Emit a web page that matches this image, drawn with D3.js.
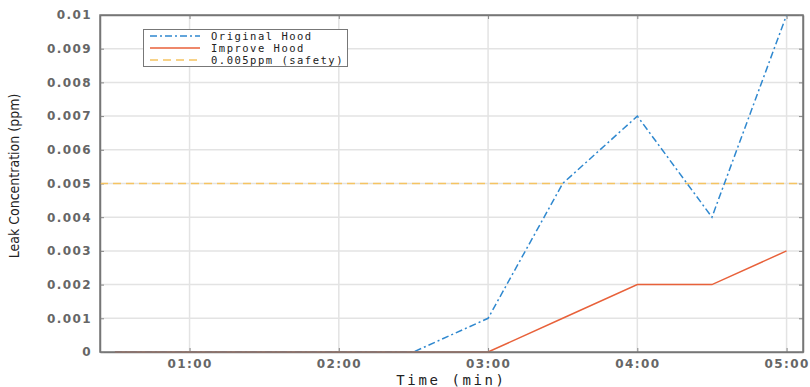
<!DOCTYPE html>
<html>
<head>
<meta charset="utf-8">
<script src="https://cdn.jsdelivr.net/npm/d3@7/dist/d3.min.js"></script>
<style>
  body { margin: 0; background: #fff; }
</style>
</head>
<body>
<svg id="chart" width="810" height="387"></svg>
<script>
// time in minutes
var times = [0.5, 1.0, 1.5, 2.0, 2.5, 3.0, 3.5, 4.0, 4.5, 5.0]
var originalHood = [0, 0, 0, 0, 0, 0.001, 0.005, 0.007, 0.004, 0.01]
var improveHood = [0, 0, 0, 0, 0, 0, 0.001, 0.002, 0.002, 0.003]
var safetyLevel = 0.005
var xTicks = [1, 2, 3, 4, 5]
var xTickLabels = ["01:00", "02:00", "03:00", "04:00", "05:00"]
var yTicks = [0, 0.001, 0.002, 0.003, 0.004, 0.005, 0.006, 0.007, 0.008, 0.009, 0.01]
var legendNames = ["Original Hood", "Improve Hood", "0.005ppm (safety)"]

var plotL = 100, plotR = 803, plotT = 15, plotB = 352
var svg = d3.select("#chart")

var x = d3.scaleLinear().domain([0.4, 5.11]).range([plotL, plotR])
var y = d3.scaleLinear().domain([0, 0.01]).range([plotB, plotT])

// grid
svg.append("g").selectAll("line").data(xTicks).enter().append("line")
  .attr("x1", d => x(d)).attr("x2", d => x(d)).attr("y1", plotT).attr("y2", plotB)
  .attr("stroke", "#e3e3e3").attr("stroke-width", 1.5)
svg.append("g").selectAll("line").data(yTicks.slice(1, -1)).enter().append("line")
  .attr("x1", plotL).attr("x2", plotR).attr("y1", d => y(d)).attr("y2", d => y(d))
  .attr("stroke", "#e3e3e3").attr("stroke-width", 1.5)

// axes with inward ticks
svg.append("g").attr("transform", "translate(0," + plotB + ")")
  .call(d3.axisBottom(x).tickValues(xTicks).tickSizeInner(-4).tickSizeOuter(0).tickPadding(7)
    .tickFormat((d, i) => xTickLabels[i]))
svg.append("g").attr("transform", "translate(" + plotL + ",0)")
  .call(d3.axisLeft(y).tickValues(yTicks).tickSizeInner(-4).tickSizeOuter(0).tickPadding(8)
    .tickFormat(d => String(+d.toFixed(3))))
svg.append("g").attr("transform", "translate(0," + plotT + ")")
  .call(d3.axisTop(x).tickValues(xTicks).tickSizeInner(-4).tickSizeOuter(0).tickFormat(""))
svg.append("g").attr("transform", "translate(" + plotR + ",0)")
  .call(d3.axisRight(y).tickValues(yTicks).tickSizeInner(-4).tickSizeOuter(0).tickFormat(""))

svg.selectAll(".tick line").attr("stroke", "#888")
svg.selectAll(".domain").attr("stroke", "#777").attr("stroke-width", 1.5)
svg.selectAll(".tick text")
  .attr("font-family", "DejaVu Sans").attr("font-size", 12).attr("font-weight", "bold")
  .attr("letter-spacing", 1.4).attr("fill", "#666")

// safety line
svg.append("line")
  .attr("x1", plotL).attr("x2", plotR).attr("y1", y(safetyLevel)).attr("y2", y(safetyLevel))
  .attr("stroke", "#f5c462").attr("stroke-width", 1.3).attr("stroke-dasharray", "8,5")

var lineGen = d3.line().x((d, i) => x(times[i])).y(d => y(d))

svg.append("path").datum(originalHood)
  .attr("d", lineGen).attr("fill", "none")
  .attr("stroke", "#2f88cf").attr("stroke-width", 1.5).attr("stroke-dasharray", "7,3,2,3")
svg.append("path").datum(improveHood)
  .attr("d", lineGen).attr("fill", "none")
  .attr("stroke", "#e8613a").attr("stroke-width", 1.5)

// box border
svg.append("rect").attr("x", plotL).attr("y", plotT).attr("width", plotR - plotL).attr("height", plotB - plotT)
  .attr("fill", "none").attr("stroke", "#777").attr("stroke-width", 1.5)

// titles
svg.append("text").attr("x", (plotL + plotR) / 2).attr("y", 385).attr("text-anchor", "middle")
  .attr("font-family", "DejaVu Sans Mono").attr("font-size", 14).attr("letter-spacing", 2.6)
  .attr("fill", "#222")
  .text("Time (min)")
svg.append("text").attr("transform", "translate(19,176) rotate(-90)").attr("text-anchor", "middle")
  .attr("font-family", "DejaVu Sans").attr("font-size", 14).attr("fill", "#222")
  .style("font-stretch", "condensed")
  .text("Leak Concentration (ppm)")

// legend
var lg = svg.append("g")
lg.append("rect").attr("x", 143.5).attr("y", 29.5).attr("width", 204).attr("height", 37)
  .attr("fill", "#fff").attr("stroke", "#777").attr("stroke-width", 1)
var legendStyles = [
  { color: "#2f88cf", dash: "7,3,2,3" },
  { color: "#e8613a", dash: "none" },
  { color: "#f5c462", dash: "8,5" }
]
legendNames.forEach(function (name, i) {
  var yy = 36 + i * 12
  lg.append("line").attr("x1", 150).attr("x2", 200).attr("y1", yy).attr("y2", yy)
    .attr("stroke", legendStyles[i].color).attr("stroke-width", 1.5)
    .attr("stroke-dasharray", legendStyles[i].dash)
  lg.append("text").attr("x", 211).attr("y", yy + 4)
    .attr("font-family", "DejaVu Sans Mono").attr("font-size", 10.5).attr("letter-spacing", 1.5)
    .attr("fill", "#222")
    .text(name)
})
</script>
</body>
</html>
